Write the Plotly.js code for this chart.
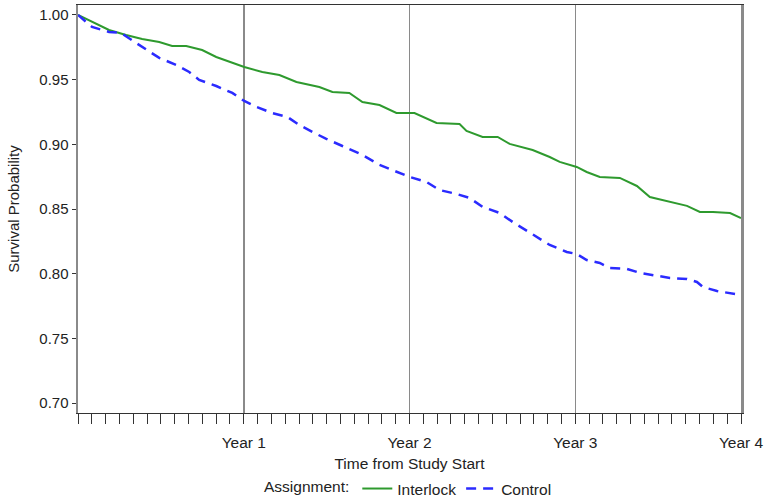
<!DOCTYPE html>
<html>
<head>
<meta charset="utf-8">
<script src="https://cdn.plot.ly/plotly-3.0.1.min.js"></script>
<style>html,body{margin:0;padding:0;background:#fff;}#chart{width:767px;height:502px;}</style>
</head>
<body>
<div id="chart"></div>
<script>
// Years since study start
const interlockT = [0,0.085,0.187,0.290,0.387,0.490,0.568,0.653,0.749,0.834,0.912,1.003,1.112,1.215,1.318,1.456,1.535,1.637,1.716,1.819,1.921,2.030,2.163,2.302,2.344,2.441,2.532,2.604,2.743,2.846,2.906,3.009,3.069,3.148,3.269,3.372,3.450,3.553,3.674,3.752,3.831,3.934,3.994,4.0];
const interlockS = [1.000,0.9946,0.9884,0.9845,0.9814,0.9791,0.9760,0.9760,0.9729,0.9675,0.9637,0.9598,0.9559,0.9536,0.9482,0.9443,0.9405,0.9397,0.9327,0.9304,0.9242,0.9242,0.9165,0.9157,0.9103,0.9057,0.9057,0.9003,0.8956,0.8902,0.8864,0.8825,0.8786,0.8748,0.8740,0.8678,0.8593,0.8562,0.8524,0.8477,0.8477,0.8469,0.8431,0.843];
const controlT = [0,0.085,0.187,0.260,0.350,0.490,0.592,0.671,0.731,0.834,0.931,1.003,1.076,1.172,1.263,1.335,1.414,1.498,1.595,1.716,1.819,1.921,2.000,2.103,2.181,2.284,2.363,2.441,2.544,2.622,2.743,2.846,2.949,3.009,3.069,3.148,3.208,3.311,3.390,3.492,3.571,3.674,3.734,3.770,3.855,3.994,4.0];
const controlS = [1.000,0.9907,0.9869,0.9861,0.9784,0.9668,0.9614,0.9559,0.9498,0.9451,0.9397,0.9335,0.9289,0.9242,0.9212,0.9150,0.9096,0.9042,0.8987,0.8918,0.8841,0.8786,0.8748,0.8709,0.8647,0.8616,0.8585,0.8516,0.8469,0.8400,0.8307,0.8222,0.8168,0.8152,0.8106,0.8083,0.8044,0.8037,0.8006,0.7982,0.7967,0.7959,0.7936,0.7897,0.7866,0.7836,0.783];
const yearTicks = [1,2,3,4];
const yearLabels = ['Year 1','Year 2','Year 3','Year 4'];
const survTicks = [0.70,0.75,0.80,0.85,0.90,0.95,1.00];

const FONT = 'Liberation Sans, Arial, sans-serif';
const FS = 15.5;
const traces = [
  {x: interlockT, y: interlockS, name: 'Interlock', type: 'scatter', mode: 'lines',
   line: {color: '#2e9a2e', width: 2}},
  {x: controlT, y: controlS, name: 'Control', type: 'scatter', mode: 'lines',
   line: {color: '#2b2bff', width: 2.5, dash: '10px,7px'}}
];
const layout = {
  width: 767, height: 502,
  margin: {l: 78, r: 26, t: 5, b: 89, autoexpand: false},
  paper_bgcolor: '#fff', plot_bgcolor: '#fff',
  font: {family: FONT, size: FS, color: '#222'},
  showlegend: true,
  legend: {orientation: 'h', x: 0.5, xanchor: 'center', yref: 'container', y: 0.026, yanchor: 'middle',
    title: {text: 'Assignment:', side: 'left', font: {size: FS}},
    font: {size: FS}, itemwidth: 30, tracegroupgap: 0},
  xaxis: {
    range: [0, 4], tickvals: yearTicks, ticktext: yearLabels,
    ticks: 'outside', ticklen: 10, tickcolor: '#333', tickwidth: 1,
    ticklabelstandoff: 5,
    minor: {tick0: 0, dtick: 1/12, ticks: 'outside', ticklen: 10, tickcolor: '#333', tickwidth: 1, showgrid: false},
    showgrid: true, gridcolor: '#8a8a8a', gridwidth: 1.5,
    showline: true, linecolor: '#333', linewidth: 1.2, mirror: true,
    zeroline: false,
    title: {text: 'Time from Study Start', font: {size: FS}, standoff: 8},
    tickfont: {size: FS}
  },
  yaxis: {
    range: [0.6923, 1.0077], tickvals: survTicks, tickformat: '.2f',
    ticks: 'outside', ticklen: 4, tickcolor: '#333',
    showgrid: false, zeroline: false,
    showline: true, linecolor: '#8a8a8a', linewidth: 2.5, mirror: true,
    title: {text: 'Survival Probability', font: {size: 15}, standoff: 16},
    tickfont: {size: 15}
  }
};
Plotly.newPlot('chart', traces, layout, {displayModeBar: false, staticPlot: true});
</script>
</body>
</html>
